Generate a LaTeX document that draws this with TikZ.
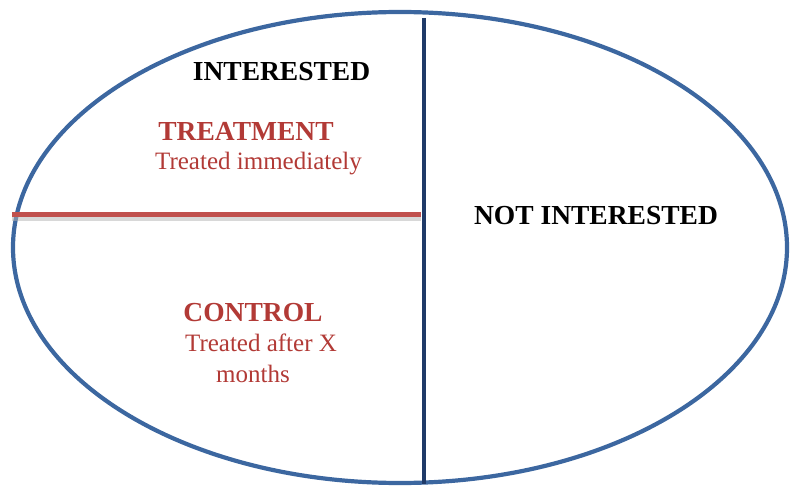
\documentclass[tikz,border=0pt]{standalone}
\usepackage{fontspec}
\setmainfont{Liberation Serif}
\usetikzlibrary{positioning}

\definecolor{rimblue}{HTML}{3C67A0}
\definecolor{splitnavy}{HTML}{1F3A68}
\definecolor{armred}{HTML}{C0504D}
\definecolor{labelred}{HTML}{B23A36}

\tikzset{
    rim/.style={draw=rimblue, line width=4.2pt},
    splitline/.style={draw=splitnavy, line width=4.5pt},
    armline/.style={draw=armred, line width=5pt},
    armshadow/.style={draw=black!30, line width=4pt, opacity=0.5},
    heading/.style={inner sep=0pt, anchor=base, font=\fontsize{27.5}{32}\selectfont\bfseries},
    armtitle/.style={heading, text=labelred},
    armtext/.style={inner sep=0pt, anchor=base, text=labelred, font=\fontsize{25}{30}\selectfont}
}

\begin{document}
\begin{tikzpicture}[x=1pt,y=-1pt]
    \useasboundingbox (0,0) rectangle (793,489);
    \draw[rim] (400,247.5) ellipse [x radius=387, y radius=235.5];

    \coordinate (topcut) at (424,18);
    \coordinate (botcut) at (424,484);
    \coordinate (leftcut) at (12,215);
    \coordinate (midcut) at (421,215);

    \draw[armshadow] ([yshift=-4.5pt] leftcut) -- ([yshift=-4.5pt] midcut);
    \draw[armline] (leftcut) -- (midcut);
    \draw[splitline] (topcut) -- (botcut);

    \node[heading] (interested) at (281.5,81) {INTERESTED};
    \node[armtitle] (treatment) at (246,141) {TREATMENT};
    \node[armtext] (immediately) at ([xshift=12.5pt, yshift=-29pt] treatment.base) {Treated immediately};
    \node[heading] (notinterested) at (596,225) {NOT INTERESTED};
    \node[armtitle] (control) at (253,321) {CONTROL};
    \node[armtext] (later) at ([xshift=8pt, yshift=-31pt] control.base) {Treated after X};
    \node[armtext] (months) at ([yshift=-30pt] later.base -| control.base) {months};
\end{tikzpicture}
\end{document}
